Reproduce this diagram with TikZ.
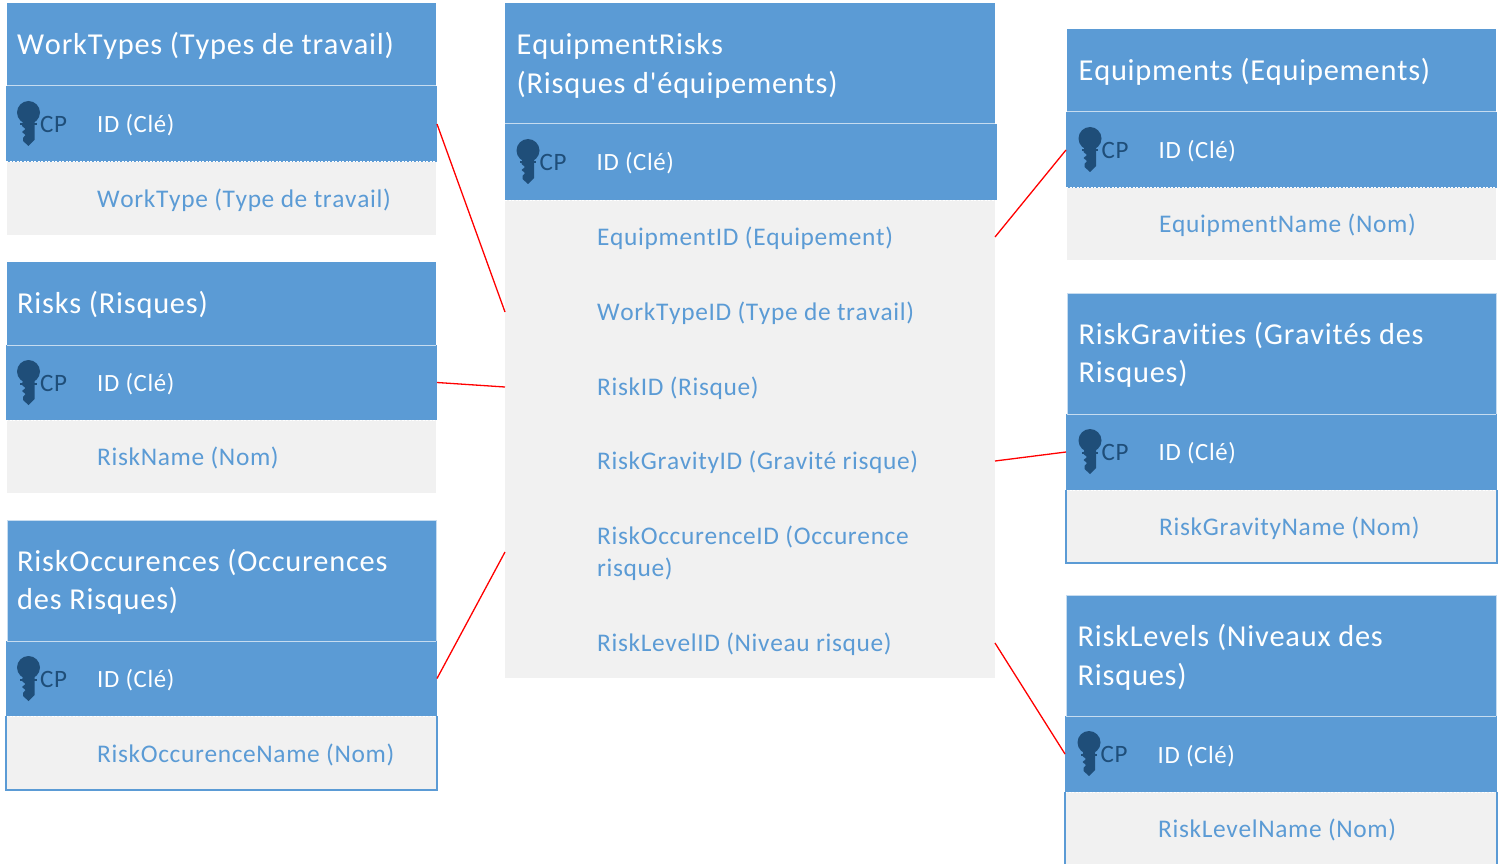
\documentclass[tikz,border=0pt]{standalone}
\usepackage{fontspec}
\setmainfont{Carlito}[LetterSpace=2.5,Ligatures={TeXOff,CommonOff},Kerning=Off]
\usetikzlibrary{calc}
\definecolor{hdr}{HTML}{5B9BD5}
\definecolor{fieldbg}{HTML}{F1F1F1}
\definecolor{keyc}{HTML}{1F4E79}
\tikzset{
  x=1pt,y=-1pt,
  band/.style={fill=hdr,draw=none,inner sep=0pt,outer sep=0pt},
  lightband/.style={fill=fieldbg,draw=none,inner sep=0pt,outer sep=0pt},
  titletext/.style={anchor=west,inner sep=0pt,text=white,align=left,font=\fontsize{30.4}{38.5}\selectfont},
  idtext/.style={anchor=west,inner sep=0pt,text=white,font=\fontsize{24.8}{30}\selectfont},
  cptext/.style={anchor=west,inner sep=0pt,text=keyc,font=\fontsize{25}{30}\selectfont},
  fieldtext/.style={anchor=west,inner sep=0pt,text=hdr,align=left,font=\fontsize{25.4}{32}\selectfont},
  rowspot/.style={minimum width=490pt,minimum height=30pt,inner sep=0pt,outer sep=0pt},
  rel/.style={draw=red,line width=1.3pt},
  sep/.style={draw=white,line width=1pt,dash pattern=on 2pt off 1.5pt},
  topline/.style={draw=white!65!hdr,line width=1pt},
  outline/.style={draw=hdr,line width=1.2pt},
  lightoutline/.style={draw=hdr!35,line width=1pt},
}
% #1 left, #2 top of id row
\newcommand{\keyglyph}[2]{%
  \fill[keyc] (#1+11,#2+26.5) circle[radius=11.5pt];
  \fill[keyc] (#1+5.5,#2+34) -- (#1+17,#2+34) -- (#1+17,#2+54) -- (#1+11,#2+60) -- (#1+5.5,#2+55)
    -- (#1+5.5,#2+52) -- (#1+8,#2+49) -- (#1+4.5,#2+46) -- (#1+8,#2+43) -- (#1+4.5,#2+40) -- cycle;
  \fill[keyc] (#1+2.5,#2+37.5) rectangle (#1+19,#2+39.5);
}
\newcommand{\ox}{0}
\newcommand{\ix}{-1}
\newcommand{\iy}{39.3}
% #1 name, #2 left x, #3 width, #4 header top, #5 header bottom, #6 id bottom, #7 field bottom, #8 title y, #9 title
\newcommand{\tablehead}[9]{%
  \node[band,minimum width=#3 pt,minimum height={#5-#4},anchor=north west] (#1head) at (#2,#4) {};
  \node[band,minimum width=#3 pt+2pt,minimum height={#6-#5},anchor=north west] (#1id) at (#2+\ix,#5) {};
  \node[lightband,minimum width=#3 pt,minimum height={#7-#6},anchor=north west] (#1body) at (#2,#6) {};
  \draw[topline] (#1head.south west) -- (#1head.south east);
  \draw[sep] (#1id.south west) -- (#1id.south east);
  \node[titletext] (#1title) at (#2+10+\ox,#8) {#9};
  \keyglyph{#2+10.5+\ox}{#5}
  \node[cptext] (#1cp) at (#2+33+\ox,#5+38.5) {CP};
  \node[idtext] (#1idt) at (#2+90+\ox,#5+\iy) {ID (Clé)};
}
\begin{document}
\begin{tikzpicture}
\useasboundingbox (0,0) rectangle (1508,864);
\clip (0,0) rectangle (1508,864);
% WorkTypes
\tablehead{wt}{7}{429}{3}{86}{162}{235}{45.5}{WorkTypes (Types de travail)}
\node[fieldtext] (wtf) at (97,200) {WorkType (Type de travail)};
% Risks
\tablehead{rk}{7}{429}{262}{345}{420}{493}{304.5}{Risks (Risques)}
\node[fieldtext] (rkf) at (97,458) {RiskName (Nom)};
% RiskOccurences
\tablehead{oc}{7}{429}{520}{641}{716}{790}{582}{RiskOccurences (Occurences\\des Risques)}
\draw[lightoutline] (ochead.south west) -- (ochead.north west) -- (ochead.north east) -- (ochead.south east);
\draw[outline] (ocid.south west) -- (ocid.south west |- ocbody.south) -- (ocid.south east |- ocbody.south) -- (ocid.south east);
\node[fieldtext] (ocf) at (97,755) {RiskOccurenceName (Nom)};
% EquipmentRisks
\renewcommand{\ox}{1.5}
\renewcommand{\ix}{0}
\tablehead{er}{505}{490}{3}{124}{200}{678}{66}{EquipmentRisks\\(Risques d'équipements)}
\foreach \n/\y/\t in {r1/237/{EquipmentID (Equipement)},r2/312/{WorkTypeID (Type de travail)},r3/387/{RiskID (Risque)},r4/461/{RiskGravityID (Gravité risque)},r6/643/{RiskLevelID (Niveau risque)}}{
  \node[rowspot,anchor=west] (\n) at (505,\y) {};
  \node[fieldtext] (\n t) at (597,\y+1) {\t};
}
\node[rowspot,anchor=west] (r5) at (505,552) {};
\node[fieldtext] (r5t) at (597,553) {RiskOccurenceID (Occurence\\risque)};
% Equipments
\renewcommand{\ix}{-1}
\tablehead{eq}{1067}{429}{29}{112}{188}{260}{71.5}{Equipments (Equipements)}
\node[fieldtext] (eqf) at (1159,225) {EquipmentName (Nom)};
% RiskGravities
\tablehead{gr}{1067}{429}{293}{414}{490}{563}{355}{RiskGravities (Gravités des\\Risques)}
\draw[lightoutline] (grhead.south west) -- (grhead.north west) -- (grhead.north east) -- (grhead.south east);
\draw[outline] (grid.south west) -- (grid.south west |- grbody.south) -- (grid.south east |- grbody.south) -- (grid.south east);
\node[fieldtext] (grf) at (1159,528) {RiskGravityName (Nom)};
% RiskLevels
\renewcommand{\iy}{40.3}
\tablehead{lv}{1066}{430}{595}{716}{792}{870}{657.5}{RiskLevels (Niveaux des\\Risques)}
\draw[lightoutline] (lvhead.south west) -- (lvhead.north west) -- (lvhead.north east) -- (lvhead.south east);
\draw[outline] (lvid.south west) -- (lvid.south west |- lvbody.south) (lvid.south east |- lvbody.south) -- (lvid.south east);
\node[fieldtext] (lvf) at (1158,830) {RiskLevelName (Nom)};
% Relations
\draw[rel] (wtid.east) -- (r2.west);
\draw[rel] (rkid.east) -- (r3.west);
\draw[rel] (ocid.east) -- (r5.west);
\draw[rel] (r1.east) -- (eqid.west);
\draw[rel] (r4.east) -- (grid.west);
\draw[rel] (r6.east) -- (lvid.west);
\end{tikzpicture}
\end{document}
